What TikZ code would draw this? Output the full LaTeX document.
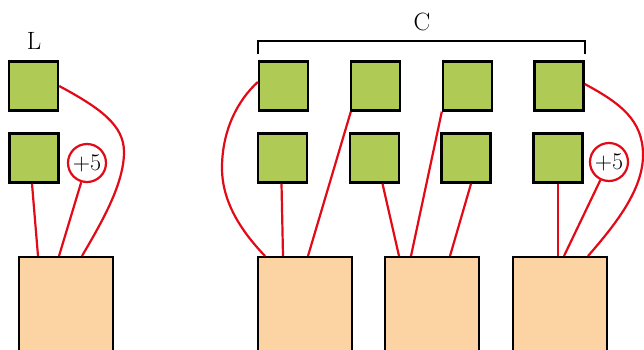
\documentclass[tikz,border=0pt]{standalone}
\usetikzlibrary{calc}
\definecolor{leafgreen}{RGB}{175,203,86}
\definecolor{peach}{RGB}{252,212,164}
\definecolor{wirered}{RGB}{226,10,22}
\begin{document}
\begin{tikzpicture}[x=1pt,y=-1pt,
  cell/.style={draw=black,fill=leafgreen,line width=2.4pt,minimum size=49pt,inner sep=0pt},
  bank/.style={draw=black,fill=peach,line width=2.4pt,minimum width=94pt,minimum height=130pt,inner sep=0pt},
  bonus/.style={circle,draw=wirered,fill=white,line width=2.2pt,minimum size=38pt,inner sep=0pt,font=\fontsize{24}{24}\selectfont},
  wire/.style={draw=wirered,line width=2.2pt},
  caption/.style={font=\fontsize{25}{25}\selectfont,inner sep=0pt}]
\useasboundingbox (0,0) rectangle (644,349);
\clip (0,0) rectangle (644,349);

% left group
\node[caption] (lL) at (34,41) {L};
\node[cell] (l1) at (33.5,86) {};
\node[cell] (l2) at (34,158) {};
\node[bonus] (lp) at (87,163) {+5};
\node[bank,anchor=north] (lb) at (66,256) {};

% right group
\node[caption] (lC) at (422,22) {C};
\node[cell] (c1a) at (283.5,86) {};
\node[cell] (c2a) at (375.5,86) {};
\node[cell] (c3a) at (467.5,86) {};
\node[cell] (c4a) at (559,86) {};
\node[cell] (c1b) at (282.5,158) {};
\node[cell] (c2b) at (374.5,158) {};
\node[cell] (c3b) at (466,158) {};
\node[cell] (c4b) at (558,158) {};
\node[bonus] (rp) at (609,162) {+5};
\node[bank,anchor=north] (b1) at (305,256) {};
\node[bank,anchor=north] (b2) at (432,256) {};
\node[bank,anchor=north] (b3) at (560,256) {};

% bracket over the C cells
\draw[line width=2.2pt] ([yshift=6pt]c1a.north west) -- ++(0,-13) -| ([yshift=6pt]c4a.north east);

% left wiring
\draw[wire] ([xshift=-2pt]l2.south) -- ([xshift=-28pt]lb.north);
\draw[wire] (lp) -- ([xshift=-7pt]lb.north);
\draw[wire] (l1.east) .. controls (100,108) and (124,125) .. (124,152)
  .. controls (124,185) and (100,225) .. ([xshift=16pt]lb.north);

% right wiring
\draw[wire] ([yshift=4pt]c1a.west) .. controls (238,100) and (222,130) .. (222,168)
  .. controls (222,205) and (245,235) .. ([xshift=-40pt]b1.north);
\draw[wire] ([xshift=-1pt]c1b.south) -- ([xshift=-22pt]b1.north);
\draw[wire] ([xshift=1pt]c2a.south west) -- ([xshift=3pt]b1.north);
\draw[wire] ([xshift=8pt]c2b.south) -- ([xshift=-33pt]b2.north);
\draw[wire] (c3a.south west) -- ([xshift=-21pt]b2.north);
\draw[wire] ([xshift=5pt]c3b.south) -- ([xshift=18pt]b2.north);
\draw[wire] (c4b.south) -- ([xshift=-2pt]b3.north);
\draw[wire] (rp) -- ([xshift=4pt]b3.north);
\draw[wire] ([yshift=2pt]c4a.east) .. controls (620,103) and (643,120) .. (643,155)
  .. controls (643,190) and (615,225) .. ([xshift=28pt]b3.north);
\end{tikzpicture}
\end{document}
